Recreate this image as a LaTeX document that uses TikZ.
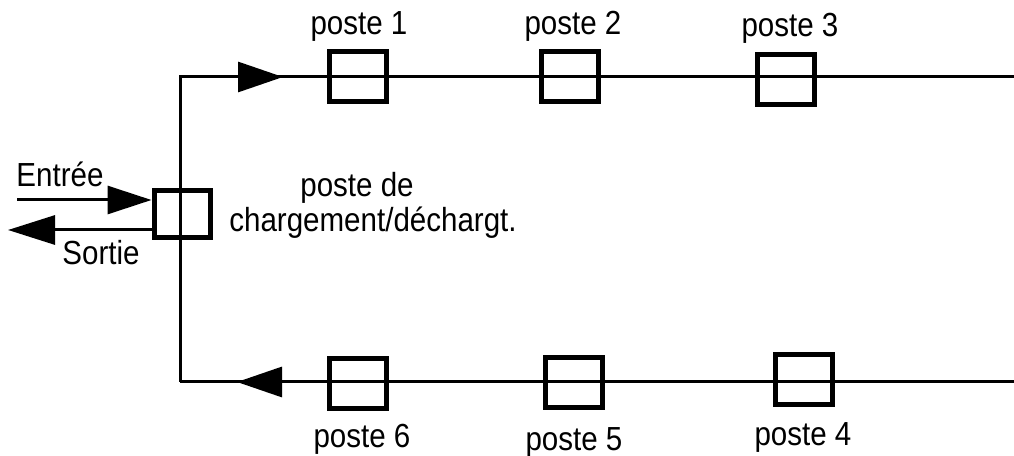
\documentclass[tikz,border=0pt]{standalone}
\usepackage{graphicx}
\usepackage{fontspec}
\setmainfont{Liberation Sans}
\usetikzlibrary{arrows.meta}
\newcommand{\lbl}[1]{\scalebox{0.885}[1]{#1}}
\tikzset{
  line/.style={line width=3bp, line cap=butt},
  station/.style={draw, line width=5bp, minimum width=57bp, minimum height=50bp, inner sep=0pt},
  lab/.style={anchor=base, inner sep=0pt, font=\fontsize{33.5}{36}\selectfont},
  arr/.style={line, -{Triangle[length=45bp,width=30bp]}},
}
\begin{document}
\begin{tikzpicture}[x=1bp,y=-1bp]
\useasboundingbox (0,0) rectangle (1014,456);
% path coordinates
\coordinate (tl) at (180,77);
\coordinate (tr) at (1014,77);
\coordinate (bl) at (180,382);
\coordinate (br) at (1014,382);
\coordinate (ta) at (283,77);
\coordinate (ba) at (237,382);
\coordinate (in) at (17,200);
\coordinate (out) at (8,230);
% lines
\draw[line] (bl) -- (tl) -- (tr);
\draw[line] (br) -- (bl);
\draw[arr] (tl) -- (ta);
\draw[arr] (ba -| br) -- (ba);
% stations
\node[station, minimum width=56bp, minimum height=47bp] (load) at (182,214) {};
\node[station] (p1) at (358,77) {};
\node[station] (p2) at (570,77) {};
\node[station] (p3) at (786,80) {};
\node[station] (p6) at (358,384) {};
\node[station] (p5) at (574,383) {};
\node[station] (p4) at (804,380) {};
% entry / exit
\draw[line, -{Triangle[length=44bp,width=28bp]}] (in) -- (in -| load.west);
\draw[line, -{Triangle[length=47bp,width=29bp]}] (out -| load.west) -- (out);
% labels
\node[lab] (l1) at (359,35) {\lbl{poste 1}};
\node[lab] (l2) at (573,35) {\lbl{poste 2}};
\node[lab] (l3) at (790,37) {\lbl{poste 3}};
\node[lab] (l6) at (362,447) {\lbl{poste 6}};
\node[lab] (l5) at (574,450) {\lbl{poste 5}};
\node[lab] (l4) at (803,445) {\lbl{poste 4}};
\node[lab] (le) at (60,187) {\lbl{Entrée}};
\node[lab] (ls) at (101,265) {\lbl{Sortie}};
\node[lab] (lc1) at (357,197) {\lbl{poste de}};
\node[lab] (lc2) at (373,232) {\lbl{chargement/déchargt.}};
\end{tikzpicture}
\end{document}
